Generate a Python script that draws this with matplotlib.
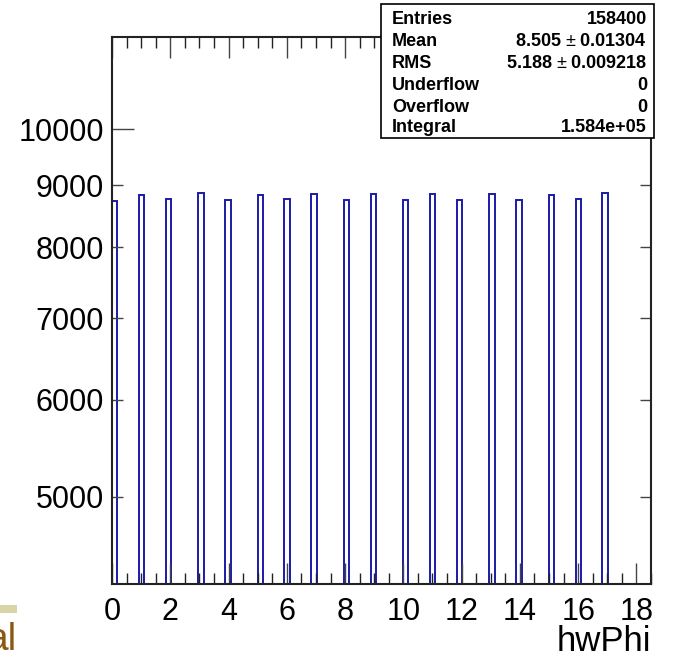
import numpy as np
import matplotlib
matplotlib.use('Agg')
import matplotlib.pyplot as plt
from matplotlib.patches import Rectangle

# hwPhi values and their entry counts
phi_values = np.arange(18)
phi_counts = [8735, 8834, 8767, 8868, 8742, 8834, 8767, 8842, 8757,
              8847, 8751, 8852, 8742, 8847, 8751, 8834, 8762, 8868]
n_bins = 100
x_range = (0, 18.5)
y_range = (4240, 11900)

stat_names = ['Entries', 'Mean', 'RMS', 'Underflow', 'Overflow', 'Integral']
stat_values = ['158400', '8.505 $\\pm$ 0.01304', '5.188 $\\pm$ 0.009218', '0', '0', '1.584e+05']

plt.rcParams['font.family'] = ['Liberation Sans', 'DejaVu Sans']
plt.rcParams['mathtext.fontset'] = 'custom'
plt.rcParams['mathtext.rm'] = 'Liberation Sans'

W, H = 677, 659
fig = plt.figure(figsize=(W / 100, H / 100), dpi=100)
ax = fig.add_axes([112 / W, 1 - 584 / H, (651 - 112) / W, (584 - 37) / H])

hist, edges = np.histogram(phi_values, bins=n_bins, range=x_range, weights=phi_counts)
hist = np.where(hist > 0, hist, 1.0)
ax.stairs(hist, edges, baseline=1.0, color='#1a1aa6', lw=1.4)

ax.set_yscale('log')
ax.set_xlim(*x_range)
ax.set_ylim(*y_range)

# x ticks
ax.set_xticks(np.arange(0, 19, 2))
ax.set_xticks(np.arange(0, 18.6, 0.5), minor=True)
ax.tick_params(axis='x', which='major', direction='in', length=15, width=1,
               top=True, labelsize=22, pad=9, color='#444444')
ax.tick_params(axis='x', which='minor', direction='in', length=8, width=1,
               top=True, color='#222222')

# y ticks
ax.set_yticks([10000])
ax.set_yticklabels(['10000'])
ax.set_yticks([5000, 6000, 7000, 8000, 9000], minor=True)
ax.set_yticklabels(['5000', '6000', '7000', '8000', '9000'], minor=True)
ax.tick_params(axis='y', which='both', direction='in', right=True,
               labelsize=22, pad=6, width=1, color='#444444')
ax.tick_params(axis='y', which='major', length=16)
ax.tick_params(axis='y', which='minor', length=8)

for s in ax.spines.values():
    s.set_linewidth(1.5)
    s.set_color('#222222')

fig.text(651 / W, 1 - 651 / H, 'hwPhi', fontsize=25, ha='right', va='baseline')

# stats box
box = Rectangle((381 / W, 1 - 138 / H), (654 - 381) / W, (138 - 4) / H,
                transform=fig.transFigure, facecolor='white', edgecolor='black',
                lw=1.2, zorder=5)
fig.patches.append(box)
rows_y = [20, 42, 64, 86, 108, 128]
for name, val, yy in zip(stat_names, stat_values, rows_y):
    fig.text(392 / W, 1 - yy / H, name, fontsize=13, fontweight='bold',
             ha='left', va='center', zorder=6)
    fig.text(647 / W, 1 - yy / H, val, fontsize=13, fontweight='bold',
             ha='right', va='center', zorder=6)

# leftover slide fragment in the bottom-left corner
fig.patches.append(Rectangle((0, 1 - 613 / H), 17 / W, 8 / H,
                             transform=fig.transFigure, facecolor='#d8d4a6',
                             edgecolor='none'))
fig.text(17 / W, 1 - 650 / H, 'al', fontsize=28, color='#8a5a12',
         ha='right', va='baseline')

fig.savefig('out.png', dpi=100)
